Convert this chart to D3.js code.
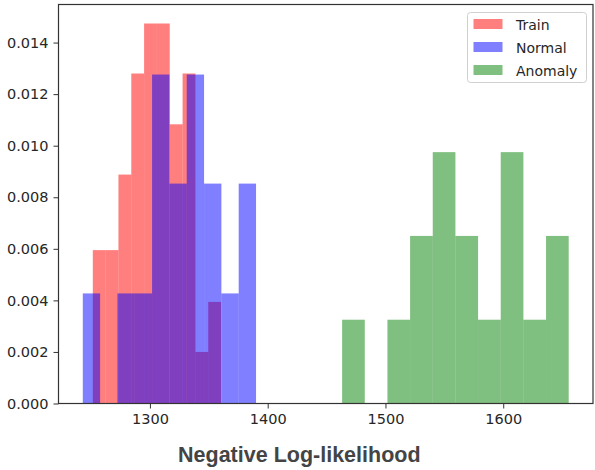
<!DOCTYPE html>
<html>
<head>
<meta charset="utf-8">
<script src="https://cdn.jsdelivr.net/npm/d3@7"></script>
<style>
  body { margin: 0; background: #fff; }
  svg { display: block; }
</style>
</head>
<body>
<div id="chart"></div>
<script>
// histogram bins: first edge, bin width, density per bin
const trainStart = 1251.5, trainWidth = 10.89;
const trainDensity = [0.00595, 0.00595, 0.00888, 0.0128, 0.01474, 0.01474, 0.01083, 0.0128, 0.00200, 0.00394];

const normalStart = 1243.0, normalWidth = 14.71;
const normalDensity = [0.00427, 0, 0.00427, 0.00427, 0.01276, 0.00853, 0.01276, 0.00853, 0.00427, 0.00853];

const anomalyStart = 1463.2, anomalyWidth = 19.24;
const anomalyDensity = [0.00325, 0, 0.00325, 0.0065, 0.00975, 0.0065, 0.00325, 0.00975, 0.00325, 0.0065];

const seriesNames = ['Train', 'Normal', 'Anomaly'];
const seriesColors = ['#ff0000', '#0000ff', '#008000'];
const xTicks = [1300, 1400, 1500, 1600];
const yTicks = [0, 0.002, 0.004, 0.006, 0.008, 0.010, 0.012, 0.014];

const width = 595, height = 470;
const margin = { top: 4.5, right: 2, bottom: 66.5, left: 58.5 };
const innerWidth = width - margin.left - margin.right;
const innerHeight = height - margin.top - margin.bottom;

const toBins = (start, w, dens) => dens.map((d, i) => ({ x0: start + i * w, x1: start + (i + 1) * w, y: d }));
const series = [
  toBins(trainStart, trainWidth, trainDensity),
  toBins(normalStart, normalWidth, normalDensity),
  toBins(anomalyStart, anomalyWidth, anomalyDensity)
];

const allBins = series.flat();
const xMin = d3.min(allBins, d => d.x0), xMax = d3.max(allBins, d => d.x1);
const xPad = (xMax - xMin) * 0.05;
const x = d3.scaleLinear().domain([xMin - xPad, xMax + xPad]).range([0, innerWidth]);
const yMax = d3.max(allBins, d => d.y) * 1.05;
const y = d3.scaleLinear().domain([0, yMax]).range([innerHeight, 0]);

const svg = d3.select('#chart').append('svg').attr('width', width).attr('height', height);
const g = svg.append('g').attr('transform', `translate(${margin.left},${margin.top})`);

series.forEach((bins, si) => {
  g.append('g').selectAll('rect').data(bins.filter(b => b.y > 0)).enter().append('rect')
    .attr('x', d => x(d.x0))
    .attr('width', d => x(d.x1) - x(d.x0))
    .attr('y', d => y(d.y))
    .attr('height', d => y(0) - y(d.y))
    .attr('fill', seriesColors[si])
    .attr('fill-opacity', 0.5);
});

const tickFont = '"DejaVu Sans", sans-serif';

const xAxis = g.append('g').attr('transform', `translate(0,${innerHeight})`)
  .call(d3.axisBottom(x).tickValues(xTicks).tickSize(5).tickPadding(5).tickFormat(d3.format('d')));
const yAxis = g.append('g')
  .call(d3.axisLeft(y).tickValues(yTicks).tickSize(5).tickPadding(5).tickFormat(d3.format('.3f')));

[xAxis, yAxis].forEach(ax => {
  ax.select('.domain').remove();
  ax.selectAll('.tick line').attr('stroke', '#333').attr('stroke-width', 1);
  ax.selectAll('.tick text').attr('fill', '#262626').style('font-family', tickFont).style('font-size', '14.5px');
});

// frame
g.append('rect').attr('width', innerWidth).attr('height', innerHeight)
  .attr('fill', 'none').attr('stroke', '#333').attr('stroke-width', 1.2);

svg.append('text')
  .attr('x', 299.3).attr('y', 462.3)
  .attr('text-anchor', 'middle')
  .attr('fill', '#444')
  .style('font-family', '"Liberation Sans", Arial, sans-serif')
  .style('font-weight', 'bold')
  .style('font-size', '21.5px')
  .text('Negative Log-likelihood');

// legend
const legend = svg.append('g').attr('transform', 'translate(467.5,12.5)');
legend.append('rect').attr('width', 119).attr('height', 70).attr('rx', 3)
  .attr('fill', '#fff').attr('fill-opacity', 0.8).attr('stroke', '#d0d0d0');
seriesNames.forEach((name, i) => {
  const row = legend.append('g').attr('transform', `translate(6,${6.5 + i * 23})`);
  row.append('rect').attr('width', 29).attr('height', 10).attr('fill', seriesColors[i]).attr('fill-opacity', 0.5);
  row.append('text').attr('x', 42.5).attr('y', 10.5)
    .attr('fill', '#262626')
    .style('font-family', tickFont).style('font-size', '14px')
    .text(name);
});
</script>
</body>
</html>
